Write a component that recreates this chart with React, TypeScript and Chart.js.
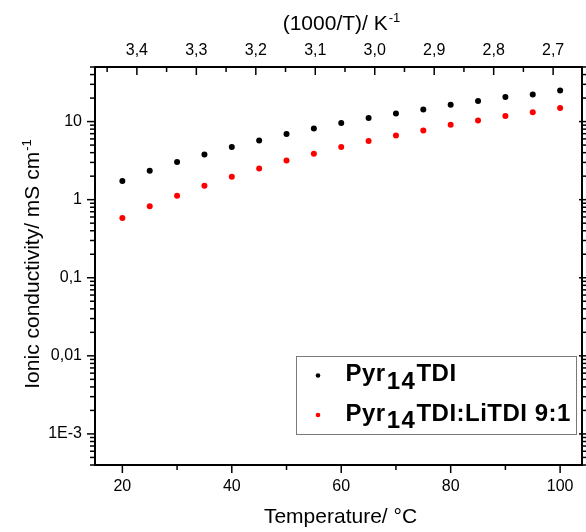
import React, { useEffect, useRef } from "react";
import { Chart, registerables } from "chart.js";

Chart.register(...registerables);

// ---------- data ----------
const temperatures = [20, 25, 30, 35, 40, 45, 50, 55, 60, 65, 70, 75, 80, 85, 90, 95, 100];
const pyr14TDI = [1.73, 2.35, 3.03, 3.8, 4.72, 5.73, 6.92, 8.16, 9.57, 11.1, 12.7, 14.3, 16.4, 18.3, 20.6, 22.2, 25.0];
const pyr14TDILiTDI = [0.583, 0.821, 1.125, 1.51, 1.97, 2.51, 3.18, 3.87, 4.72, 5.63, 6.64, 7.69, 9.1, 10.3, 11.8, 13.2, 14.9];
const seriesLabels = ["Pyr14TDI", "Pyr14TDI:LiTDI 9:1"];
const seriesColors = ["#000000", "#ff0000"];

// ---------- ticks ----------
const xMin = 15;
const xMax = 104;
const xMajorTicks = [20, 40, 60, 80, 100];
const xMinorTicks = [30, 50, 70, 90];
const topMajorTicks = [3.4, 3.3, 3.2, 3.1, 3.0, 2.9, 2.8, 2.7];
const topMinorTicks = [3.45, 3.35, 3.25, 3.15, 3.05, 2.95, 2.85, 2.75];
const yMin = 4e-4;
const yMax = 50;
const yMajorTicks = [1e-3, 1e-2, 1e-1, 1, 10];
const yTickLabels = ["1E-3", "0,01", "0,1", "1", "10"];
const yDecades = [1e-4, 1e-3, 1e-2, 1e-1, 1, 10];
const yMinorMantissas = [2, 3, 4, 5, 6, 7, 8, 9];

const xTitle = "Temperature/ °C";
const topTitle = "(1000/T)/ K";
const yTitle = "Ionic conductivity/ mS cm";
const supText = "-1";

const FONT = "'Liberation Sans', Arial, Helvetica, sans-serif";

const ticksPlugin = {
  id: "frameTicks",
  afterDraw(chart: any) {
    const ctx = chart.ctx as CanvasRenderingContext2D;
    const { x, x2, y, y2 } = chart.scales;
    const area = chart.chartArea;
    ctx.save();
    ctx.strokeStyle = "#000";
    ctx.lineWidth = 1.5;
    const line = (a: number, b: number, c: number, d: number) => {
      ctx.beginPath();
      ctx.moveTo(a, b);
      ctx.lineTo(c, d);
      ctx.stroke();
    };
    // bottom (outward)
    xMajorTicks.forEach((v) => {
      const p = x.getPixelForValue(v);
      line(p, area.bottom, p, area.bottom + 8);
    });
    xMinorTicks.forEach((v) => {
      const p = x.getPixelForValue(v);
      line(p, area.bottom, p, area.bottom + 5);
    });
    // top (inward)
    topMajorTicks.forEach((v) => {
      const p = x2.getPixelForValue(v);
      line(p, area.top, p, area.top + 8);
    });
    topMinorTicks.forEach((v) => {
      const p = x2.getPixelForValue(v);
      line(p, area.top, p, area.top + 5);
    });
    // left / right
    yMajorTicks.forEach((v) => {
      const p = y.getPixelForValue(v);
      line(area.left - 8, p, area.left, p);
      const q = y2.getPixelForValue(v);
      line(area.right - 3, q, area.right + 8, q);
    });
    yDecades.forEach((d) => {
      yMinorMantissas.forEach((m) => {
        const v = d * m;
        if (v < yMin || v > yMax) return;
        const p = y.getPixelForValue(v);
        line(area.left - 5, p, area.left, p);
        const q = y2.getPixelForValue(v);
        line(area.right, q, area.right + 5, q);
      });
    });

    // titles
    ctx.fillStyle = "#000";
    const mainFont = `21px ${FONT}`;
    const supFont = `13px ${FONT}`;
    const cx = (area.left + area.right) / 2;

    // bottom title
    ctx.font = mainFont;
    ctx.textAlign = "center";
    ctx.textBaseline = "alphabetic";
    ctx.fillText(xTitle, cx + 2, 523);

    const drawWithSup = (text: string, centerX: number, baseY: number) => {
      ctx.font = mainFont;
      const w1 = ctx.measureText(text).width;
      ctx.font = supFont;
      const w2 = ctx.measureText(supText).width;
      const start = centerX - (w1 + w2 + 1) / 2;
      ctx.textAlign = "left";
      ctx.font = mainFont;
      ctx.fillText(text, start, baseY);
      ctx.font = supFont;
      ctx.fillText(supText, start + w1 + 1, baseY - 8);
    };
    // top title
    drawWithSup(topTitle, cx + 3, 30);

    // left title rotated
    ctx.save();
    ctx.translate(39, (area.top + area.bottom) / 2 - 2);
    ctx.rotate(-Math.PI / 2);
    drawWithSup(yTitle, 0, 0);
    ctx.restore();

    // legend
    const bx = 296.5, by = 356.5, bw = 280, bh = 78;
    ctx.fillStyle = "#fff";
    ctx.fillRect(bx, by, bw, bh);
    ctx.strokeStyle = "#7a7a7a";
    ctx.lineWidth = 1;
    ctx.strokeRect(bx, by, bw, bh);
    const rows = [381, 420.5];
    chart.data.datasets.forEach((ds: any, i: number) => {
      const base = rows[i];
      ctx.fillStyle = ds.backgroundColor;
      ctx.beginPath();
      ctx.arc(318, base - 5.5, 2.3, 0, Math.PI * 2);
      ctx.fill();
      ctx.fillStyle = "#000";
      ctx.font = `bold 24px ${FONT}`;
      ctx.textAlign = "left";
      (ctx as any).letterSpacing = "0.5px";
      const m = /^(Pyr)(14)(.*)$/.exec(ds.label);
      let xx = 345.5;
      if (m) {
        ctx.fillText(m[1], xx, base);
        xx += ctx.measureText(m[1]).width;
        (ctx as any).letterSpacing = "1.5px";
        ctx.fillText(m[2], xx + 1, base + 7.5);
        xx += ctx.measureText(m[2]).width + 1;
        (ctx as any).letterSpacing = "0.5px";
        ctx.fillText(m[3], xx, base);
      } else {
        ctx.fillText(ds.label, xx, base);
      }
      (ctx as any).letterSpacing = "0px";
    });
    ctx.restore();
  },
};

export default function App() {
  const ref = useRef<HTMLCanvasElement | null>(null);
  useEffect(() => {
    if (!ref.current) return;
    const tickFont = { family: FONT, size: 16 };
    const series = [pyr14TDI, pyr14TDILiTDI];
    const chart = new Chart(ref.current, {
      type: "scatter",
      data: {
        datasets: series.map((vals, i) => ({
          label: seriesLabels[i],
          data: temperatures.map((t, k) => ({ x: t, y: vals[k] })),
          backgroundColor: seriesColors[i],
          borderColor: seriesColors[i],
          pointRadius: 3,
          pointBorderWidth: 0,
          xAxisID: "x",
          yAxisID: "y",
        })),
      },
      options: {
        animation: false,
        responsive: false,
        devicePixelRatio: 1,
        layout: { padding: 0 },
        plugins: { legend: { display: false }, tooltip: { enabled: false } },
        scales: {
          x: {
            type: "linear",
            position: "bottom",
            min: xMin,
            max: xMax,
            afterBuildTicks: (s: any) => {
              s.ticks = xMajorTicks.map((v) => ({ value: v }));
            },
            afterFit: (s: any) => {
              s.height = 67;
            },
            grid: { display: false, drawTicks: false },
            border: { display: true, color: "#000", width: 2 },
            ticks: { font: tickFont, color: "#000", padding: 12, maxRotation: 0, autoSkip: false },
          },
          x2: {
            type: "linear",
            position: "top",
            reverse: true,
            min: 1000 / (xMax + 273.15),
            max: 1000 / (xMin + 273.15),
            afterBuildTicks: (s: any) => {
              s.ticks = topMajorTicks.map((v) => ({ value: v }));
            },
            afterFit: (s: any) => {
              s.height = 67;
            },
            grid: { display: false, drawTicks: false },
            border: { display: true, color: "#000", width: 2 },
            ticks: {
              font: tickFont,
              color: "#000",
              padding: 7,
              maxRotation: 0,
              autoSkip: false,
              callback: (v: any) => Number(v).toFixed(1).replace(".", ","),
            },
          },
          y: {
            type: "logarithmic",
            position: "left",
            min: yMin,
            max: yMax,
            afterBuildTicks: (s: any) => {
              s.ticks = yMajorTicks.map((v) => ({ value: v }));
            },
            afterFit: (s: any) => {
              s.width = 95;
            },
            grid: { display: false, drawTicks: false },
            border: { display: true, color: "#000", width: 2 },
            ticks: {
              font: tickFont,
              color: "#000",
              padding: 13,
              autoSkip: false,
              callback: (v: any) => {
                const idx = yMajorTicks.findIndex((t) => Math.abs(Math.log10(t) - Math.log10(Number(v))) < 1e-6);
                return idx >= 0 ? yTickLabels[idx] : "";
              },
            },
          },
          y2: {
            type: "logarithmic",
            position: "right",
            min: yMin,
            max: yMax,
            afterFit: (s: any) => {
              s.width = 2;
            },
            grid: { display: false, drawTicks: false },
            border: { display: true, color: "#000", width: 2 },
            ticks: { display: false },
          },
        },
      } as any,
      plugins: [ticksPlugin],
    });
    return () => chart.destroy();
  }, []);
  return (
    <div style={{ position: "absolute", left: 0, top: 0, width: 586, height: 532, background: "#fff" }}>
      <canvas ref={ref} width={586} height={532} style={{ display: "block" }} />
    </div>
  );
}
